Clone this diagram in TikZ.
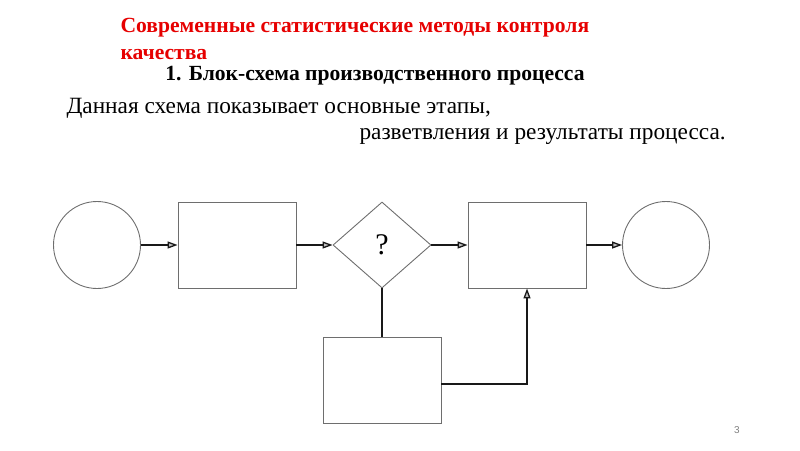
\documentclass[tikz,border=0pt]{standalone}
\usepackage{fontspec}
\setmainfont{Liberation Serif}
\newfontfamily\numfont{Liberation Sans}
\usetikzlibrary{shapes.geometric,arrows.meta}
\definecolor{titlered}{RGB}{230,0,0}
\definecolor{edgegray}{RGB}{110,110,110}
\begin{document}
\begin{tikzpicture}[x=1pt,y=-1pt,
		blk/.style={draw=edgegray, line width=.9pt, rectangle, minimum width=118pt, minimum height=86pt, inner sep=0pt},
		term/.style={draw=edgegray, line width=.9pt, circle, minimum size=87pt, inner sep=0pt},
		cond/.style={draw=edgegray, line width=.9pt, diamond, minimum width=98pt, minimum height=86pt, inner sep=0pt},
		flow/.style={line width=1.7pt, draw=black!90, -{Triangle[length=10pt,width=7pt,fill=gray!50,line width=1.3pt]}}]
		\useasboundingbox (0,0) rectangle (800,450);
		% headings
		\node[anchor=base west, align=left, text=titlered, font=\fontsize{21.6}{27}\selectfont\bfseries] (title) at (117,59)
			{Современные статистические методы контроля\\качества};
		\node[anchor=base, font=\fontsize{21.6}{24}\selectfont\bfseries] (head) at (375,80)
			{1. Блок-схема производственного процесса};
		\node[anchor=base west, font=\fontsize{23.3}{26}\selectfont] (line1) at (63,113)
			{Данная схема показывает основные этапы,};
		\node[anchor=base west, font=\fontsize{23.3}{26}\selectfont] (line2) at (356,139)
			{разветвления и результаты процесса.};
		% flow chart
		\node[term] (start) at (97,245) {};
		\node[blk] (proc1) at (237,245) {};
		\node[cond, font=\fontsize{30}{30}\selectfont] (check) at (382,245) {?};
		\node[blk] (proc2) at (527,245) {};
		\node[term] (stop) at (666,245) {};
		\node[blk] (side) at (382,380) {};
		\draw[flow] (start) -- (proc1);
		\draw[flow] (proc1) -- (check);
		\draw[flow] (check) -- (proc2);
		\draw[flow] (proc2) -- (stop);
		\draw[line width=1.7pt, draw=black!90] (check.south) -- (side.north);
		\draw[flow] ([yshift=-4pt]side.east) -| (proc2.south);
		\node[text=gray, font=\numfont\fontsize{10}{11}\selectfont] (page) at (737,430) {3};
	\end{tikzpicture}
\end{document}
